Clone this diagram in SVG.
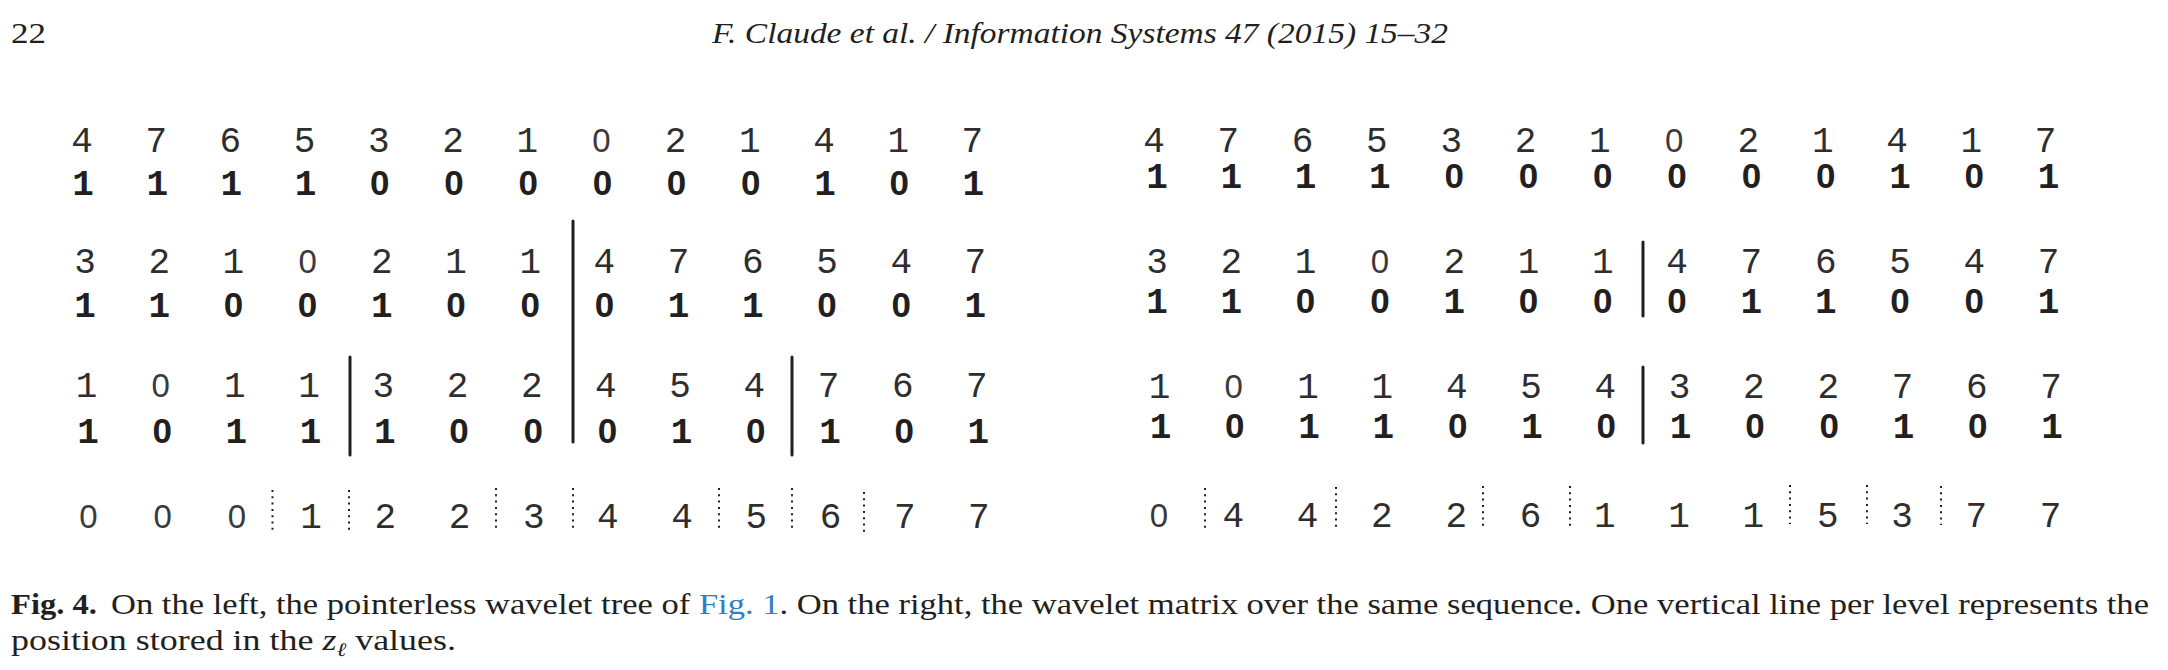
<svg xmlns="http://www.w3.org/2000/svg" width="2168" height="670" viewBox="0 0 2168 670">
<style>
.lt{font-family:"Liberation Mono","DejaVu Sans Mono",monospace;font-size:36px;fill:#2e2e2e;text-anchor:middle}
.bd{font-family:"Liberation Mono","DejaVu Sans Mono",monospace;font-size:36px;font-weight:bold;fill:#231f20;text-anchor:middle}
.zl{font-family:"Liberation Sans",Arial,sans-serif;font-size:33px;font-weight:normal;fill:#3a3a3a}
.zb{font-family:"Liberation Sans",Arial,sans-serif;font-size:35px;font-weight:bold;fill:#231f20}
.sep{stroke:#231f20;stroke-width:3;stroke-linecap:round}
.dot{stroke:#231f20;stroke-width:2;stroke-dasharray:2 4.3}
.hd{font-family:"Liberation Serif","Times New Roman",serif;font-size:30px;fill:#231f20}
.cap{font-family:"Liberation Serif","Times New Roman",serif;font-size:29px;fill:#231f20}
</style>
<rect width="2168" height="670" fill="#fff"/>
<g id="header">
<text class="hd" x="11" y="43" textLength="35" lengthAdjust="spacingAndGlyphs">22</text>
<text class="hd" x="712" y="43" font-style="italic" textLength="736" lengthAdjust="spacingAndGlyphs">F. Claude et al. / Information Systems 47 (2015) 15–32</text>
</g>
<g id="left-wavelet-tree">
<g id="left-level1">
<text class="lt" y="152"><tspan x="82 156.2 230.4 304.6 378.8 453 527.2">4765321</tspan><tspan class="zl" x="601.4">0</tspan><tspan x="675.6 749.8 824 898.2 972.4">21417</tspan></text>
<text class="bd" y="195"><tspan x="83 157.2 231.4 305.6">1111</tspan><tspan class="zb" x="379.8 454 528.2 602.4 676.6 750.8">000000</tspan><tspan x="825">1</tspan><tspan class="zb" x="899.2">0</tspan><tspan x="973.4">1</tspan></text>
</g>
<g id="left-level2">
<text class="lt" y="273"><tspan x="85 159.2 233.4">321</tspan><tspan class="zl" x="307.6">0</tspan><tspan x="381.8 456 530.2 604.4 678.6 752.8 827 901.2 975.4">211476547</tspan></text>
<text class="bd" y="317"><tspan x="85 159.2">11</tspan><tspan class="zb" x="233.4 307.6">00</tspan><tspan x="381.8">1</tspan><tspan class="zb" x="456 530.2 604.4">000</tspan><tspan x="678.6 752.8">11</tspan><tspan class="zb" x="827 901.2">00</tspan><tspan x="975.4">1</tspan></text>
</g>
<g id="left-level3">
<text class="lt" y="397"><tspan x="86.5">1</tspan><tspan class="zl" x="160.7">0</tspan><tspan x="234.9 309.1 383.3 457.5 531.7 605.9 680.1 754.3 828.5 902.7 976.9">11322454767</tspan></text>
<text class="bd" y="443"><tspan x="88">1</tspan><tspan class="zb" x="162.2">0</tspan><tspan x="236.4 310.6 384.8">111</tspan><tspan class="zb" x="459 533.2 607.4">000</tspan><tspan x="681.6">1</tspan><tspan class="zb" x="755.8">0</tspan><tspan x="830">1</tspan><tspan class="zb" x="904.2">0</tspan><tspan x="978.4">1</tspan></text>
</g>
<g id="left-leaves">
<text class="lt" y="528"><tspan class="zl" x="88.5 162.7 236.9">000</tspan><tspan x="311.1 385.3 459.5 533.7 607.9 682.1 756.3 830.5 904.7 978.9">1223445677</tspan></text>
</g>
</g>
<g id="right-wavelet-matrix">
<g id="right-level1">
<text class="lt" y="152"><tspan x="1154 1228.3 1302.6 1376.9 1451.2 1525.5 1599.8">4765321</tspan><tspan class="zl" x="1674.1">0</tspan><tspan x="1748.4 1822.7 1897 1971.3 2045.6">21417</tspan></text>
<text class="bd" y="188"><tspan x="1157 1231.3 1305.6 1379.9">1111</tspan><tspan class="zb" x="1454.2 1528.5 1602.8 1677.1 1751.4 1825.7">000000</tspan><tspan x="1900">1</tspan><tspan class="zb" x="1974.3">0</tspan><tspan x="2048.6">1</tspan></text>
</g>
<g id="right-level2">
<text class="lt" y="273"><tspan x="1157 1231.3 1305.6">321</tspan><tspan class="zl" x="1379.9">0</tspan><tspan x="1454.2 1528.5 1602.8 1677.1 1751.4 1825.7 1900 1974.3 2048.6">211476547</tspan></text>
<text class="bd" y="313"><tspan x="1157 1231.3">11</tspan><tspan class="zb" x="1305.6 1379.9">00</tspan><tspan x="1454.2">1</tspan><tspan class="zb" x="1528.5 1602.8 1677.1">000</tspan><tspan x="1751.4 1825.7">11</tspan><tspan class="zb" x="1900 1974.3">00</tspan><tspan x="2048.6">1</tspan></text>
</g>
<g id="right-level3">
<text class="lt" y="398"><tspan x="1159.5">1</tspan><tspan class="zl" x="1233.8">0</tspan><tspan x="1308.1 1382.4 1456.7 1531 1605.3 1679.6 1753.9 1828.2 1902.5 1976.8 2051.1">11454322767</tspan></text>
<text class="bd" y="438"><tspan x="1160.5">1</tspan><tspan class="zb" x="1234.8">0</tspan><tspan x="1309.1 1383.4">11</tspan><tspan class="zb" x="1457.7">0</tspan><tspan x="1532">1</tspan><tspan class="zb" x="1606.3">0</tspan><tspan x="1680.6">1</tspan><tspan class="zb" x="1754.9 1829.2">00</tspan><tspan x="1903.5">1</tspan><tspan class="zb" x="1977.8">0</tspan><tspan x="2052.1">1</tspan></text>
</g>
<g id="right-leaves">
<text class="lt" y="527"><tspan class="zl" x="1159">0</tspan><tspan x="1233.3 1307.6 1381.9 1456.2 1530.5 1604.8 1679.1 1753.4 1827.7 1902 1976.3 2050.6">442261115377</tspan></text>
</g>
</g>
<g id="connectors">
<line class="sep" x1="573" y1="221" x2="573" y2="442"/>
<line class="sep" x1="350" y1="357" x2="350" y2="455"/>
<line class="sep" x1="792" y1="357" x2="792" y2="455"/>
<line class="sep" x1="1643" y1="242" x2="1643" y2="316"/>
<line class="sep" x1="1643" y1="367" x2="1643" y2="443"/>
<line class="dot" x1="272.5" y1="490" x2="272.5" y2="530"/>
<line class="dot" x1="349" y1="490" x2="349" y2="530"/>
<line class="dot" x1="496" y1="488" x2="496" y2="528"/>
<line class="dot" x1="573" y1="488" x2="573" y2="528"/>
<line class="dot" x1="719" y1="488" x2="719" y2="528"/>
<line class="dot" x1="792" y1="488" x2="792" y2="528"/>
<line class="dot" x1="864" y1="492" x2="864" y2="532"/>
<line class="dot" x1="1205" y1="488" x2="1205" y2="530"/>
<line class="dot" x1="1336" y1="487" x2="1336" y2="528"/>
<line class="dot" x1="1483" y1="486" x2="1483" y2="527"/>
<line class="dot" x1="1570" y1="486" x2="1570" y2="527"/>
<line class="dot" x1="1790" y1="485" x2="1790" y2="524"/>
<line class="dot" x1="1867" y1="485" x2="1867" y2="524"/>
<line class="dot" x1="1941" y1="486" x2="1941" y2="525"/>
</g>
<g id="caption">
<text class="cap" x="11" y="614" font-weight="bold" textLength="86" lengthAdjust="spacingAndGlyphs">Fig. 4.</text>
<text class="cap" x="111" y="614" textLength="2038" lengthAdjust="spacingAndGlyphs">On the left, the pointerless wavelet tree of <tspan fill="#2f7fc1">Fig. 1</tspan>. On the right, the wavelet matrix over the same sequence. One vertical line per level represents the</text>
<text class="cap" x="11" y="650" textLength="445" lengthAdjust="spacingAndGlyphs">position stored in the <tspan font-style="italic">z</tspan><tspan font-style="italic" font-size="19" dy="6">ℓ</tspan><tspan dy="-6"> values.</tspan></text>
</g>
</svg>
